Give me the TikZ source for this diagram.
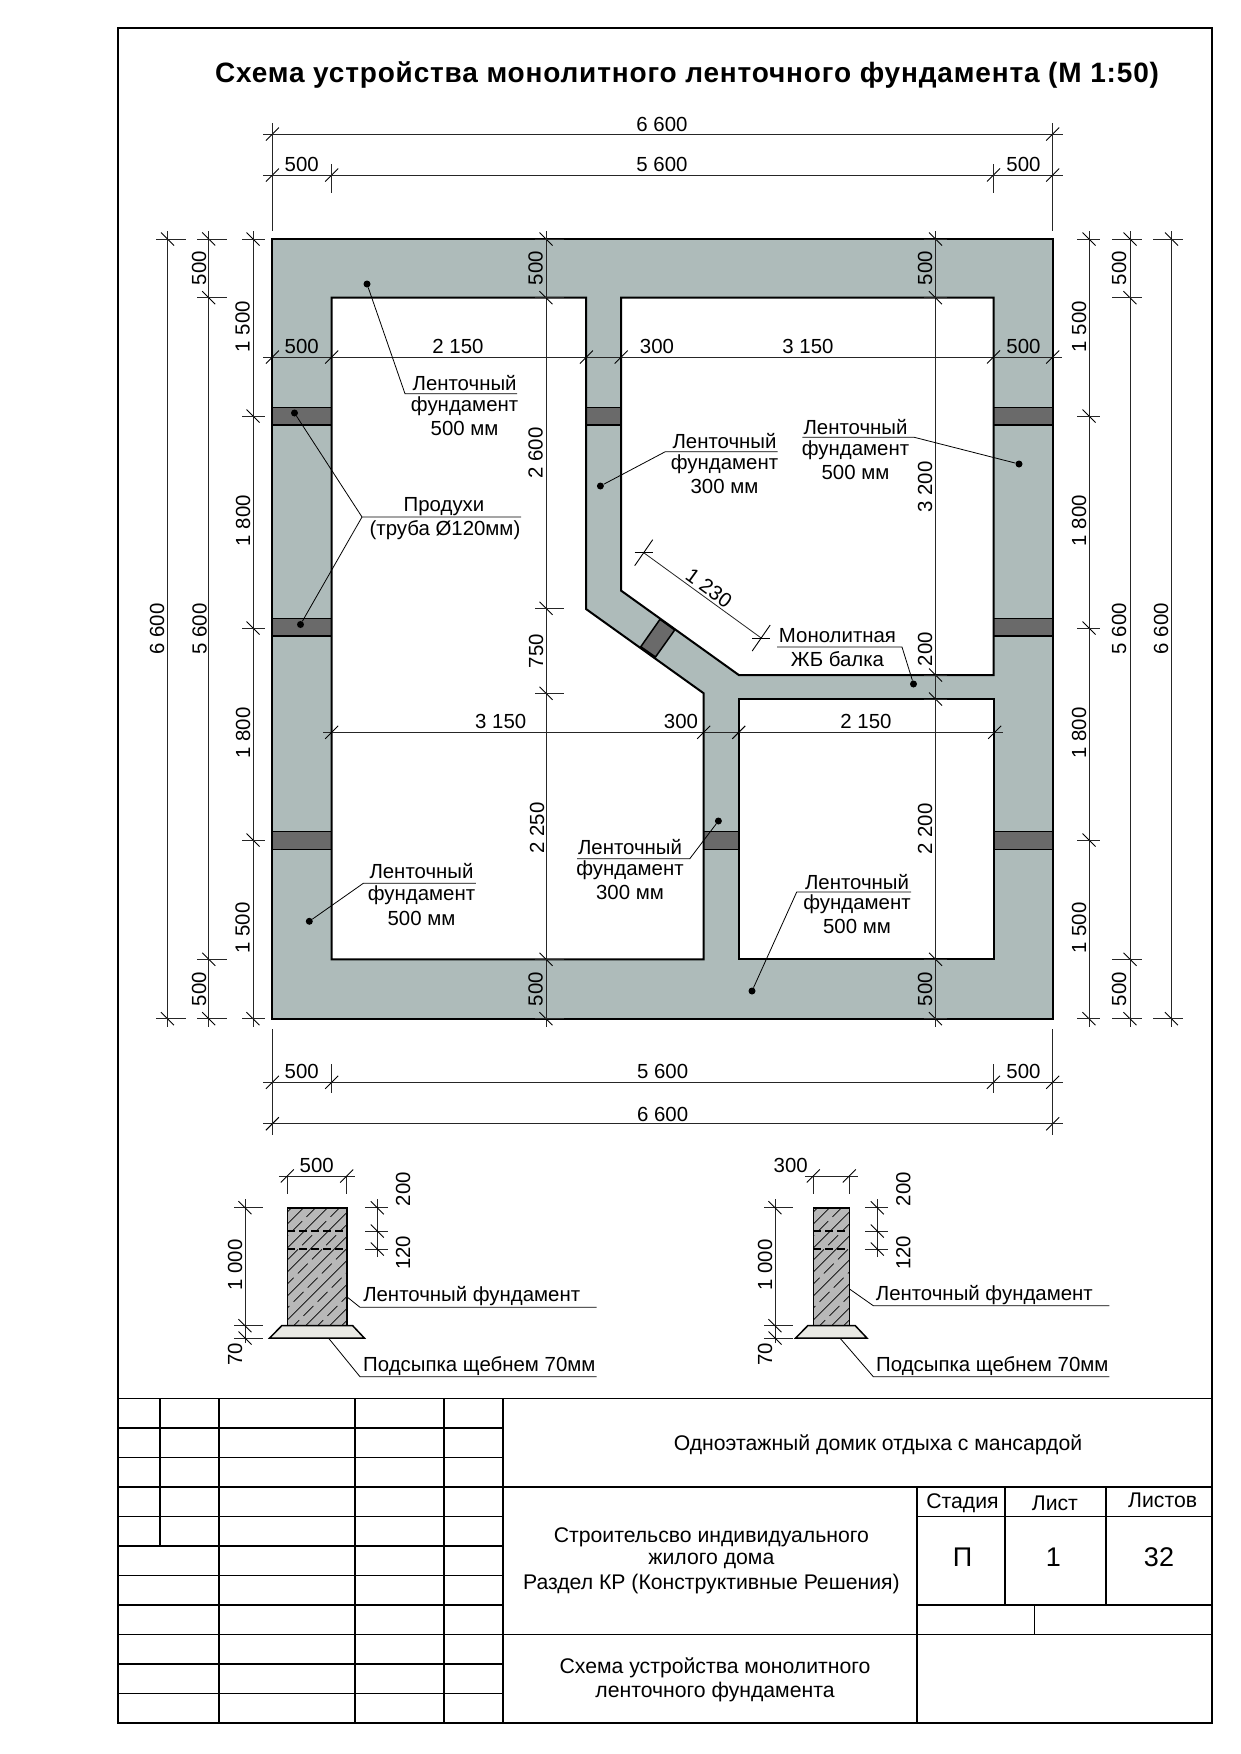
\documentclass[tikz,border=0pt]{standalone}
\usepackage{fontspec}
\setmainfont{Liberation Sans}
\usepackage{tikz}
\definecolor{wallgray}{RGB}{174,187,186}
\definecolor{ventgray}{RGB}{106,106,106}
\definecolor{concgray}{RGB}{184,184,184}
\definecolor{gravelgray}{RGB}{233,233,228}
\tikzset{
  txt/.style={inner sep=0pt,font=\fontsize{20.4}{20.4}\selectfont},
  txtv/.style={txt,rotate=90},
  txtcell/.style={inner sep=0pt,font=\fontsize{21.2}{21.2}\selectfont},
  wall/.style={draw=black,line width=2pt},
  dimline/.style={black!85,line width=0.8pt},
  tick/.style={black,line width=0.9pt},
  leader/.style={black,line width=0.8pt},
  dotmark/.style={circle,fill=black,inner sep=0pt,minimum size=7pt},
  cell/.style={black,line width=1.6pt},
}
\begin{document}
\begin{tikzpicture}[x=1pt,y=-1pt]
\useasboundingbox (0,0) rectangle (1241,1754);
% tick across a horizontal / vertical dimension line
\def\tickh#1#2{\draw[tick] (#1-6.5,#2+6.5) -- (#1+6.5,#2-6.5);}
\def\tickv#1#2{\draw[tick] (#1-6.5,#2-6.5) -- (#1+6.5,#2+6.5);}
% sheet frame
\draw[line width=1.8pt] (118,28) rectangle (1212,1722.7);
\node[font=\fontsize{28}{28}\selectfont\bfseries\addfontfeature{LetterSpace=2.95},inner sep=0pt] (title) at (687,75) {Схема устройства монолитного ленточного фундамента (М 1:50)};
% walls and rooms
\filldraw[wall,fill=wallgray] (272.4,239) rectangle (1052.7,1018.7);
\foreach \a in {407.3,618.3,831.7} {
  \filldraw[wall,line width=1.5pt,fill=ventgray] (272.4,\a) rectangle (331.6,\a+17.7);
  \filldraw[wall,line width=1.5pt,fill=ventgray] (993.5,\a) rectangle (1052.7,\a+17.7);
}
\filldraw[wall,line width=1.5pt,fill=ventgray] (586,407.3) rectangle (621.2,425);
\filldraw[wall,line width=1.5pt,fill=ventgray] (703.7,831.7) rectangle (739,849.4);
\filldraw[wall,line width=1.5pt,fill=ventgray] (660,619.3) -- (674.7,630) -- (655.5,657) -- (640.8,646.7) -- cycle;
\filldraw[wall,fill=white] (331.6,297.7) -- (586,297.7) -- (586,609) -- (703.7,693.3) -- (703.7,959.3) -- (331.6,959.3) -- cycle;
\filldraw[wall,fill=white] (621.2,297.7) -- (993.5,297.7) -- (993.5,675) -- (738.8,675) -- (621.2,590.7) -- cycle;
\filldraw[wall,fill=white] (739,699) -- (993.5,699) -- (993.5,959.3) -- (739,959.3) -- cycle;
% horizontal dimensions
\foreach \y/\xa/\xb/\ticks in {
  134/263/1063/{272.4,1052.7},
  175/263/1063/{272.4,331.7,993.5,1052.7},
  357/263/1062/{272.4,331.7,586.4,621.2,993.5,1052.7},
  732.3/323.3/1003/{331.6,703.7,738.8,994.7},
  1082.3/263/1063/{272.4,331.7,993.5,1052.7},
  1123.7/263/1063/{272.4,1052.7}} {
  \draw[dimline] (\xa,\y) -- (\xb,\y);
  \foreach \t in \ticks {\tickh{\t}{\y}}
}
\foreach \x/\ya/\yb in {272.4/123/231,1052.7/123/231,331.7/164/193,993.5/164/193,
    272.4/1029/1135,1052.7/1029/1135,331.7/1064/1093,993.5/1064/1093} {
  \draw[dimline] (\x,\ya) -- (\x,\yb);
}
% vertical dimensions
\foreach \x/\xa/\xb/\ticks in {
  167.5/156/186/{239,1018.7},
  208.7/197/227/{239,297.7,959.3,1018.7},
  253/242/265/{239,416,628,840,1018.7},
  546/535/564/{239,297.7,608.3,693.3,959.3,1018.7},
  935.5/924/947/{239,297.7,675,699,959.3,1018.7},
  1089/1077/1100/{239,416,628,840,1018.7},
  1130/1112/1142/{239,297.7,959.3,1018.7},
  1171.5/1153/1183/{239,1018.7}} {
  \draw[dimline] (\x,231) -- (\x,1027);
  \foreach \t in \ticks {
    \tickv{\x}{\t}
    \draw[dimline] (\xa,\t) -- (\xb,\t);
  }
}
% slanted dimension
\coordinate (slanta) at (643.7,552.7);
\coordinate (slantb) at (761.2,638);
\draw[dimline] (slanta) -- (slantb);
\foreach \c in {slanta,slantb} {
  \draw[tick] (\c) ++(-9,0) -- ++(18,0);
  \draw[tick] (\c) ++(-9,13) -- ++(18,-26);
}
\node[txt,rotate=-36] (slantlbl) at (709,588) {1 230};
% dimension labels
\foreach \x/\y/\t [count=\n] in {
  662/124/6 600, 301.7/164.7/500, 662/164.7/5 600, 1023.5/164.7/500,
  301.7/346.7/500, 458/346.7/2 150, 657/346.7/300, 808/346.7/3 150, 1023.5/346.7/500,
  500.7/721.7/3 150, 681/721.7/300, 866/721.7/2 150,
  301.7/1071.7/500, 662.6/1071.7/5 600, 1023.5/1071.7/500, 662.6/1114/6 600,
  316.7/1165.7/500, 790.7/1165.7/300} {
  \node[txt] (dimh\n) at (\x,\y) {\t};
}
\foreach \x/\y/\t [count=\n] in {
  157/629/6 600, 199/268/500, 199.5/629/5 600, 199/989/500,
  242.5/326.7/1 500, 243/520.7/1 800, 243/733/1 800, 242.7/928/1 500,
  535.7/268/500, 535.7/453/2 600, 536/651/750, 537/828/2 250, 535.5/989/500,
  925/268/500, 925/487/3 200, 925/649/200, 925/829/2 200, 925/989/500,
  1079/326.7/1 500, 1079/520.7/1 800, 1079/733/1 800, 1079/928/1 500,
  1119/268/500, 1119/628.7/5 600, 1119/989/500, 1161/628.7/6 600,
  235/1265/1 000, 235/1354/70, 403/1189/200, 403/1252.7/120,
  765/1265/1 000, 765/1354/70, 903.3/1189/200, 903.3/1252.7/120} {
  \node[txtv] (dimv\n) at (\x,\y) {\t};
}
% leaders
\foreach \n/\dx/\dy/\kx/\ky/\ex in {
  a/367/284/405/393.7/517, b/600.4/486/665.3/451.7/777.5, c/1019/464/914.3/437.3/802.4,
  d/718.4/821/689.8/858.7/577, e/752/991/796.7/892/911, f/309.3/921.3/363.3/883.3/475.8,
  g/913.5/684/902/647/777, h/294.5/413/362/517/521,
  i/331/1284/360/1307.3/596.7, j/323.3/1331.7/360/1376.7/596.7,
  k/836.7/1280/873.3/1305.7/1109.3, l/836.7/1334.3/873.3/1376.7/1109.3} {
  \node[dotmark] (dot\n) at (\dx,\dy) {};
  \coordinate (knee\n) at (\kx,\ky);
  \coordinate (end\n) at (\ex,\ky);
  \draw[leader] (dot\n) -- (knee\n) -- (end\n);
}
\node[dotmark] (dotm) at (300.5,624.5) {};
\draw[leader] (dotm) -- (kneeh);
% leader labels
\foreach \x/\y/\ya/\yb/\yc/\size in {
  464.6/382.7/406/428/500/a, 724.5/440.7/464/486/300/b, 855.5/426.7/450/472.3/500/c,
  630/847.3/870.7/892.7/300/d, 857/881.7/904/926/500/e, 421.5/871/895.7/918.3/500/f} {
  \node[txt] (lbl\size a) at (\x,\y) {Ленточный};
  \node[txt] (lbl\size b) at (\x,\ya) {фундамент};
  \node[txt] (lbl\size c) at (\x,\yb) {\yc\ мм};
}
\node[txt] (lblga) at (837.5,636) {Монолитная};
\node[txt] (lblgb) at (837.5,659) {ЖБ балка};
\node[txt] (lblha) at (444,507) {Продухи};
\node[txt] (lblhb) at (445,530) {(труба Ø120мм)};
\node[txt] (lbli) at (471.7,1296) {Ленточный фундамент};
\node[txt] (lblj) at (479.3,1365.7) {Подсыпка щебнем 70мм};
\node[txt] (lblk) at (984.3,1294.7) {Ленточный фундамент};
\node[txt] (lbll) at (992.3,1365.7) {Подсыпка щебнем 70мм};
% cross sections
\def\footing#1#2#3#4{
  \begin{scope}
    \clip (#1,1207.7) rectangle (#2,1325.7);
    \fill[concgray] (#1,1207.7) rectangle (#2,1325.7);
    \foreach \a in {0,24,...,216} {\draw[line width=0.8pt] (#1-130+\a,1330) -- ++(150,-150);}
    \foreach \a in {12,36,...,216} {\draw[line width=0.8pt,dash pattern=on 14pt off 6pt] (#1-130+\a,1330) -- ++(150,-150);}
  \end{scope}
  \draw[line width=1.6pt] (#1,1207.7) rectangle (#2,1325.7);
  \draw[line width=1.4pt,dash pattern=on 8pt off 4pt] (#1,1231) -- (#2+1,1231) (#1,1249) -- (#2+1,1249);
  \filldraw[line width=1.5pt,fill=gravelgray] (#1-5.6,1325.7) -- (#2+6,1325.7) -- (#2+17.6,1338) -- (#1-17.6,1338) -- cycle;
  \draw[dimline] (#1-8.5,1176) -- (#2+8.5,1176);
  \draw[dimline] (#1,1177) -- (#1,1194) (#2,1177) -- (#2,1194);
  \tickh{#1}{1176} \tickh{#2}{1176}
  \draw[dimline] (#3,1199) -- (#3,1343);
  \foreach \t in {1207.7,1325.7,1338} {
    \draw[dimline] (#3-11,\t) -- (#3+18,\t);
    \tickv{#3}{\t}
  }
  \draw[dimline] (#4,1199) -- (#4,1257);
  \foreach \t in {1207.7,1231,1249} {
    \draw[dimline] (#4-12,\t) -- (#4+11,\t);
    \tickv{#4}{\t}
  }
}
\footing{287.3}{346.7}{245}{377.3}
\footing{813.3}{849.3}{775}{877.3}
% title block
\foreach \i in {1,...,10} {\draw[cell] (118,1398.3+29.5*\i) -- (503,1398.3+29.5*\i);}
\foreach \x in {218.7,355,443.7,503} {\draw[cell] (\x,1398.3) -- (\x,1722.7);}
\draw[cell] (160,1398.3) -- (160,1545.8);
\draw[cell] (118,1398.3) -- (1212,1398.3);
\draw[cell] (503,1486.8) -- (1212,1486.8);
\draw[cell] (917,1516.3) -- (1212,1516.3);
\draw[cell] (917,1604.8) -- (1212,1604.8);
\draw[cell] (503,1634.3) -- (1212,1634.3);
\draw[cell] (917,1486.8) -- (917,1722.7);
\draw[cell] (1004.7,1486.8) -- (1004.7,1604.8);
\draw[cell] (1105.8,1486.8) -- (1105.8,1604.8);
\draw[cell] (1034.5,1604.8) -- (1034.5,1634.3);
\foreach \x/\y/\t [count=\n] in {
  878/1445/Одноэтажный домик отдыха с мансардой,
  711.4/1537.5/Строительсво индивидуального, 711.4/1560.5/жилого дома,
  711.4/1583.5/Раздел КР (Конструктивные Решения),
  715/1667.5/Схема устройства монолитного, 715/1691.5/ленточного фундамента,
  962.5/1502.7/Стадия, 1054.9/1503/Лист, 1162.6/1500.7/Листов} {
  \node[txtcell] (cell\n) at (\x,\y) {\t};
}
\foreach \x/\t [count=\n] in {962.5/П,1053.4/1,1159/32} {
  \node[inner sep=0pt,font=\fontsize{27}{27}\selectfont] (big\n) at (\x,1557) {\t};
}
\end{tikzpicture}
\end{document}
